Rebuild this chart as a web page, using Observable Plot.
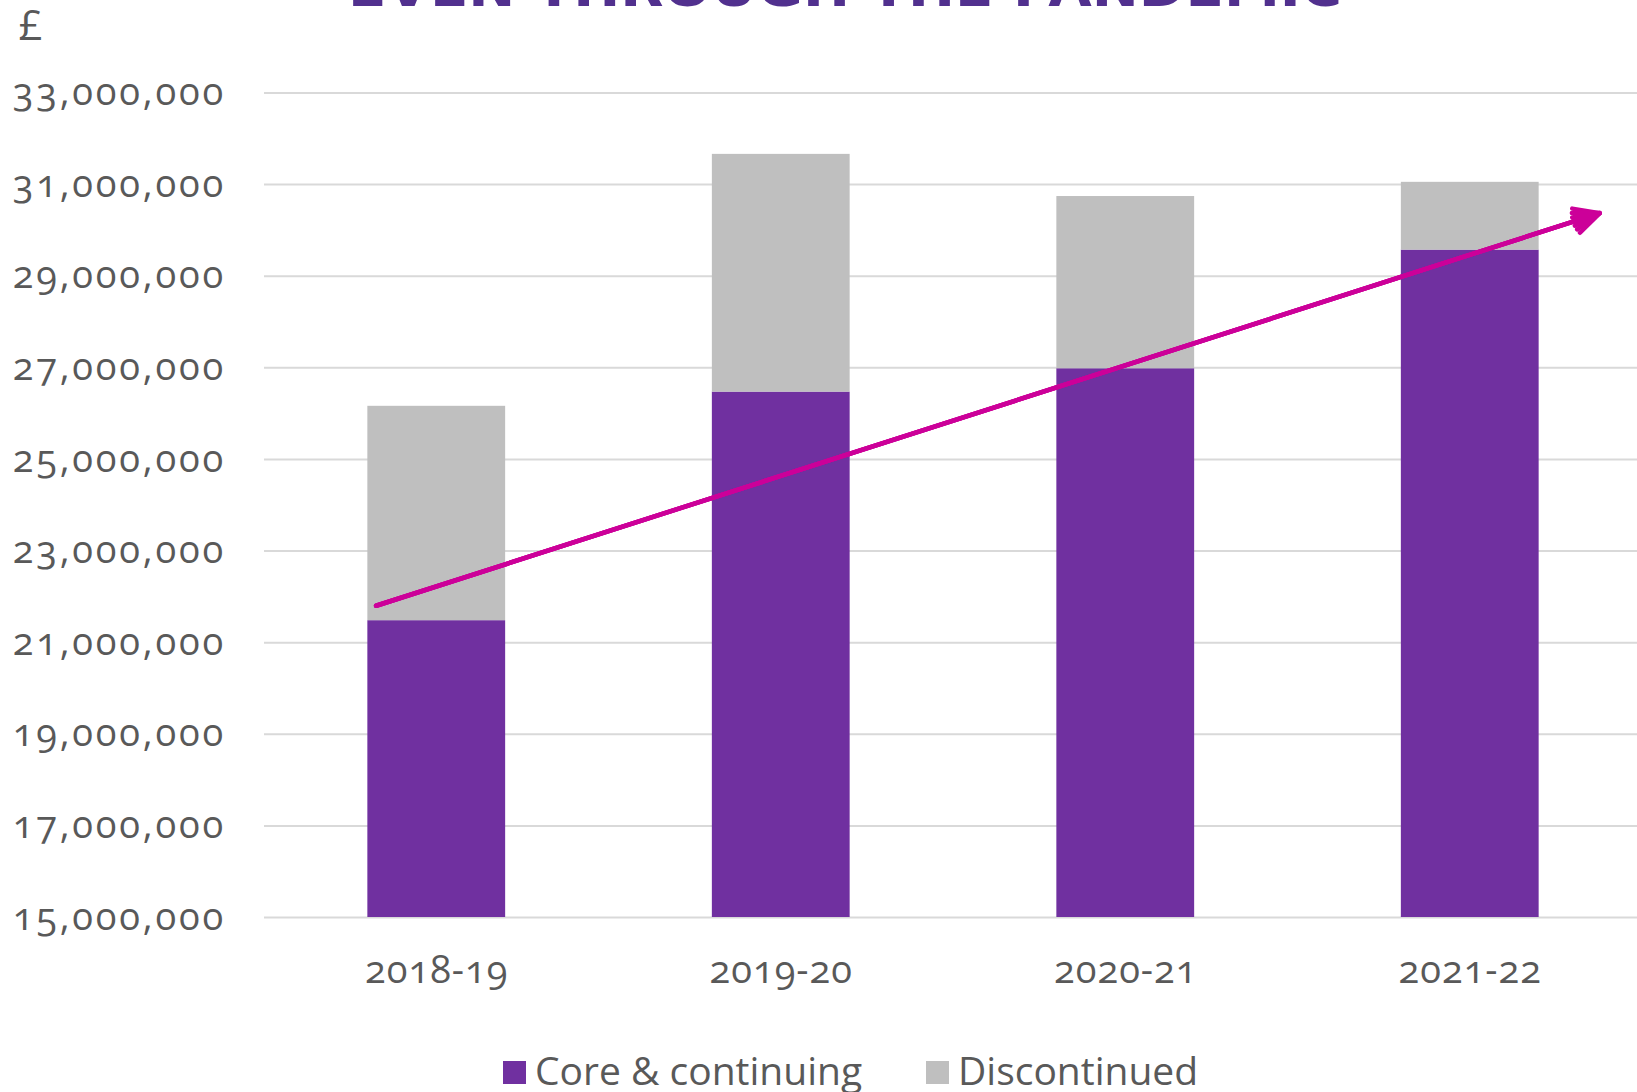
<!DOCTYPE html>
<html><head><meta charset="utf-8">
<script src="https://cdn.jsdelivr.net/npm/d3@7"></script>
<script src="https://cdn.jsdelivr.net/npm/@observablehq/plot@0.6"></script>
<style>
html,body{margin:0;padding:0;background:#fff;overflow:hidden;}
#wrap{position:relative;width:1637px;height:1092px;background:#fff;}
#title{display:block;overflow:hidden;}
#chart svg{display:block;}
#chart g[aria-label="y-axis tick label"] text{letter-spacing:2.8px;}
#chart g[aria-label="x-axis tick label"] text{letter-spacing:1px;}
#legend{position:relative;height:92px;font-family:"Open Sans",sans-serif;font-size:39px;color:#595959;}
.sw{position:absolute;top:61px;width:23px;height:23px;}
.lt{position:absolute;top:50px;line-height:39px;white-space:nowrap;}
</style></head><body><div id="wrap">
<svg id="title" width="1637" height="8"><text x="348" y="6" textLength="994" lengthAdjust="spacingAndGlyphs" font-family="'DejaVu Sans Condensed','Liberation Sans Narrow',sans-serif" font-weight="700" font-size="52" fill="#51308e">EVEN THROUGH THE PANDEMIC</text></svg>
<div id="chart"></div>
<div id="legend"></div>
</div>
<script>
const categories = ["2018-19", "2019-20", "2020-21", "2021-22"];
const seriesNames = ["Core & continuing", "Discontinued"];
const seriesColors = ["#7030a0", "#bfbfbf"];
const coreValues = [21480000, 26470000, 26980000, 29570000];
const discontinuedValues = [4680000, 5190000, 3760000, 1480000];
const yTicks = [15000000, 17000000, 19000000, 21000000, 23000000, 25000000, 27000000, 29000000, 31000000, 33000000];
const trendFrom = [-0.176, 21806000];
const trendTo = [3.376, 30378000];
const currencyLabel = ["£"];

const rows = categories.flatMap((c, i) => [
  {i, series: seriesNames[0], lo: 0, hi: coreValues[i]},
  {i, series: seriesNames[1], lo: coreValues[i], hi: coreValues[i] + discontinuedValues[i]}
]);
const trend = [{x1: trendFrom[0], y1: trendFrom[1], x2: trendTo[0], y2: trendTo[1]}];
const arrowStyle = {x1: "x1", y1: "y1", x2: "x2", y2: "y2", stroke: "#cc0099", strokeWidth: 4.5, headLength: 9.3};

const chart = Plot.plot({
  width: 1637, height: 992,
  marginTop: 84.5, marginBottom: 83, marginLeft: 264, marginRight: -5,
  x: {domain: [-0.5, 3.5]},
  y: {domain: [15000000, 33000000]},
  color: {domain: seriesNames, range: seriesColors},
  style: {fontFamily: '"Open Sans", sans-serif', fontSize: "38px", color: "#595959", background: "white", overflow: "visible"},
  marks: [
    Plot.ruleY(yTicks, {stroke: "#d9d9d9", strokeWidth: 2}),
    Plot.rect(rows, {x1: d => d.i - 0.2, x2: d => d.i + 0.2, y1: "lo", y2: "hi", fill: "series", clip: true}),
    Plot.axisY({ticks: yTicks, tickSize: 0, tickPadding: 38.5, tickFormat: d3.format(","), label: null, fontVariant: "oldstyle-nums", fontSize: 38}),
    Plot.axisX({ticks: [0, 1, 2, 3], tickFormat: i => categories[i], tickSize: 0, tickPadding: 39, label: null, fontVariant: "oldstyle-nums", fontSize: 38}),
    Plot.arrow(trend, {...arrowStyle, headAngle: 54}),
    Plot.arrow(trend, {...arrowStyle, headAngle: 36}),
    Plot.arrow(trend, {...arrowStyle, headAngle: 18}),
    Plot.text(currencyLabel, {text: d => d, frameAnchor: "top-left", dx: -246, dy: -82.5, fontSize: 42, fill: "#595959"})
  ]
});
document.getElementById("chart").appendChild(chart);

const legend = document.getElementById("legend");
const legendLefts = [503, 926];
seriesNames.forEach((name, k) => {
  const sw = document.createElement("div");
  sw.className = "sw";
  sw.style.left = legendLefts[k] + "px";
  sw.style.background = seriesColors[k];
  legend.appendChild(sw);
  const t = document.createElement("div");
  t.className = "lt";
  t.style.left = (legendLefts[k] + 32) + "px";
  t.textContent = name;
  legend.appendChild(t);
});
</script>
</body></html>
